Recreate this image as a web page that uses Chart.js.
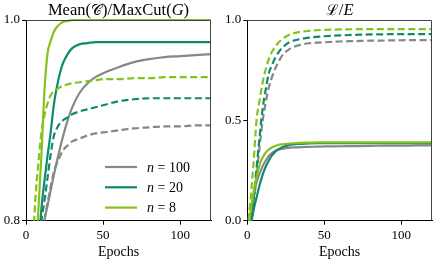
<!DOCTYPE html>
<html>
<head>
<meta charset="utf-8">
<script src="https://cdn.jsdelivr.net/npm/chart.js@4"></script>
<style>
    html, body { margin: 0; padding: 0; background: #fff; }
    #wrap { position: relative; width: 436px; height: 261px; }
    .box { position: absolute; top: 0; width: 218px; height: 261px; }
</style>
</head>
<body>
<div id="wrap">
    <div class="box" style="left:0"><canvas id="ratioChart" width="218" height="261"></canvas></div>
    <div class="box" style="left:218px"><canvas id="lossChart" width="218" height="261"></canvas></div>
</div>
<script>
const epochs = [0, 2, 4, 6, 8, 10, 12, 14, 16, 18, 20, 22, 24, 27, 30, 35, 40, 45, 50, 60, 70, 80, 90, 100, 110, 120]

const seriesLabels = ['n = 100', 'n = 20', 'n = 8']

// left panel: Mean(C)/MaxCut(G)
const ratioSolid100 = [0.50, 0.56, 0.62, 0.68, 0.73, 0.77, 0.80, 0.815, 0.83, 0.845, 0.859, 0.872, 0.884, 0.900, 0.913, 0.928, 0.937, 0.943, 0.947, 0.953, 0.958, 0.961, 0.963, 0.964, 0.965, 0.966]
const ratioDash100 = [0.55, 0.60, 0.65, 0.70, 0.74, 0.775, 0.80, 0.818, 0.834, 0.848, 0.857, 0.864, 0.870, 0.875, 0.879, 0.882, 0.885, 0.887, 0.888, 0.890, 0.892, 0.893, 0.894, 0.894, 0.895, 0.895]
const ratioSolid20 = [0.50, 0.57, 0.64, 0.71, 0.77, 0.812, 0.84, 0.865, 0.888, 0.915, 0.933, 0.947, 0.957, 0.966, 0.972, 0.976, 0.977, 0.978, 0.978, 0.978, 0.978, 0.978, 0.978, 0.978, 0.978, 0.978]
const ratioDash20 = [0.60, 0.65, 0.70, 0.74, 0.772, 0.80, 0.82, 0.843, 0.866, 0.884, 0.892, 0.897, 0.900, 0.903, 0.906, 0.909, 0.911, 0.913, 0.915, 0.919, 0.921, 0.922, 0.922, 0.922, 0.922, 0.922]
const ratioSolid8 = [0.55, 0.62, 0.69, 0.76, 0.81, 0.865, 0.93, 0.967, 0.979, 0.988, 0.993, 0.996, 0.998, 0.999, 1.0, 1.0, 1.0, 1.0, 1.0, 1.0, 1.0, 1.0, 1.0, 1.0, 1.0, 1.0]
const ratioDash8 = [0.62, 0.69, 0.76, 0.82, 0.857, 0.888, 0.905, 0.917, 0.925, 0.929, 0.931, 0.933, 0.934, 0.936, 0.937, 0.938, 0.939, 0.940, 0.941, 0.941, 0.942, 0.942, 0.943, 0.943, 0.943, 0.943]

// right panel: L/E
const lossSolid100 = [-0.10, 0.01, 0.12, 0.19, 0.235, 0.272, 0.30, 0.322, 0.337, 0.347, 0.353, 0.357, 0.360, 0.363, 0.365, 0.367, 0.368, 0.369, 0.370, 0.371, 0.372, 0.373, 0.374, 0.374, 0.375, 0.375]
const lossDash100 = [-0.18, -0.05, 0.08, 0.22, 0.37, 0.50, 0.59, 0.665, 0.715, 0.755, 0.787, 0.815, 0.835, 0.853, 0.866, 0.877, 0.884, 0.887, 0.889, 0.893, 0.895, 0.897, 0.898, 0.899, 0.900, 0.900]
const lossSolid20 = [-0.12, -0.035, 0.05, 0.115, 0.178, 0.23, 0.27, 0.30, 0.325, 0.343, 0.355, 0.363, 0.370, 0.376, 0.380, 0.383, 0.385, 0.386, 0.386, 0.386, 0.386, 0.386, 0.386, 0.386, 0.386, 0.386]
const lossDash20 = [-0.15, -0.03, 0.10, 0.26, 0.42, 0.56, 0.655, 0.735, 0.775, 0.81, 0.835, 0.856, 0.871, 0.888, 0.897, 0.906, 0.912, 0.916, 0.919, 0.923, 0.926, 0.928, 0.929, 0.930, 0.930, 0.930]
const lossSolid8 = [-0.07, 0.04, 0.14, 0.215, 0.28, 0.315, 0.34, 0.355, 0.365, 0.372, 0.377, 0.380, 0.382, 0.384, 0.386, 0.388, 0.389, 0.390, 0.390, 0.390, 0.390, 0.390, 0.390, 0.390, 0.390, 0.390]
const lossDash8 = [-0.05, 0.10, 0.28, 0.50, 0.60, 0.69, 0.755, 0.805, 0.84, 0.865, 0.885, 0.900, 0.912, 0.925, 0.934, 0.942, 0.946, 0.949, 0.951, 0.953, 0.954, 0.955, 0.955, 0.955, 0.955, 0.955]

const xTicks = [0, 50, 100]
const ratioTicks = [0.8, 1.0]
const lossTicks = [0.0, 0.5, 1.0]

const GRAY = '#878787'
const TEAL = '#0f8a6c'
const LIME = '#85c21c'
const SERIF = '"Liberation Serif", "DejaVu Serif", serif'

function points(values) {
    return values.map((v, i) => ({ x: epochs[i], y: v }))
}

function line(label, values, color, dashed, order) {
    return {
        label,
        data: points(values),
        borderColor: color,
        borderWidth: 2.2,
        borderDash: dashed ? [7, 3.5] : [],
        pointRadius: 0,
        cubicInterpolationMode: 'monotone',
        fill: false,
        clip: { left: 0, right: 2, top: 3, bottom: 0 },
        order,
        dashed
    }
}

function drawParts(ctx, parts, cx, y) {
    let total = 0
    parts.forEach(p => {
        ctx.font = p.font
        total += ctx.measureText(p.text).width
    })
    let x = cx - total / 2
    ctx.textAlign = 'left'
    ctx.textBaseline = 'alphabetic'
    ctx.fillStyle = '#000'
    parts.forEach(p => {
        ctx.font = p.font
        ctx.fillText(p.text, x, y)
        x += ctx.measureText(p.text).width
    })
}

function framePlugin(titleParts) {
    return {
        id: 'frame',
        afterDraw(chart) {
            const { ctx, chartArea: a } = chart
            ctx.save()
            ctx.strokeStyle = '#444'
            ctx.lineWidth = 1
            ctx.beginPath()
            ctx.moveTo(a.left, a.top + 0.5)
            ctx.lineTo(a.right - 0.5, a.top + 0.5)
            ctx.lineTo(a.right - 0.5, a.bottom)
            ctx.stroke()
            drawParts(ctx, titleParts, (a.left + a.right) / 2, 14.5)
            ctx.restore()
        }
    }
}

const legendPlugin = {
    id: 'nLegend',
    afterDraw(chart) {
        const ctx = chart.ctx
        ctx.save()
        const items = chart.data.datasets.filter(d => !d.dashed)
        items.sort((a, b) => seriesLabels.indexOf(a.label) - seriesLabels.indexOf(b.label))
        items.forEach((d, i) => {
            const y = 167 + i * 20.3
            ctx.strokeStyle = d.borderColor
            ctx.lineWidth = 2.2
            ctx.beginPath()
            ctx.moveTo(105, y)
            ctx.lineTo(137, y)
            ctx.stroke()
            const rest = d.label.slice(1)
            ctx.fillStyle = '#000'
            ctx.font = 'italic 14px ' + SERIF
            ctx.textAlign = 'left'
            ctx.textBaseline = 'middle'
            ctx.fillText('n', 147, y + 1)
            const w = ctx.measureText('n').width
            ctx.font = '14px ' + SERIF
            ctx.fillText(rest, 147 + w, y + 1)
        })
        ctx.restore()
    }
}

function scales(yMin, yMax, yTicks, yWidth) {
    return {
        x: {
            type: 'linear',
            min: 0,
            max: 120,
            afterBuildTicks: s => { s.ticks = xTicks.map(v => ({ value: v })) },
            afterFit: s => { s.height = 40.3 },
            grid: { drawOnChartArea: false, drawTicks: true, tickLength: 4, color: '#000' },
            border: { display: true, color: '#000', width: 1 },
            ticks: { color: '#000', padding: 3, maxRotation: 0, font: { family: SERIF, size: 13 } },
            title: { display: true, text: 'Epochs', color: '#000', padding: 0, font: { family: SERIF, size: 14 } }
        },
        y: {
            min: yMin,
            max: yMax,
            afterBuildTicks: s => { s.ticks = yTicks.map(v => ({ value: v })) },
            afterFit: s => { s.width = yWidth },
            grid: { drawOnChartArea: false, drawTicks: true, tickLength: 4, color: '#000' },
            border: { display: true, color: '#000', width: 1 },
            ticks: { color: '#000', padding: 2, font: { family: SERIF, size: 13 }, callback: v => v.toFixed(1) }
        }
    }
}

function baseOptions(yMin, yMax, yTicks, yWidth, padRight) {
    return {
        responsive: false,
        animation: false,
        layout: { padding: { left: 0, right: padRight, top: 20, bottom: 0 } },
        plugins: { legend: { display: false }, tooltip: { enabled: false }, title: { display: false } },
        scales: scales(yMin, yMax, yTicks, yWidth)
    }
}

new Chart(document.getElementById('ratioChart').getContext('2d'), {
    type: 'line',
    data: {
        datasets: [
            line(seriesLabels[0], ratioSolid100, GRAY, false, 6),
            line(seriesLabels[0], ratioDash100, GRAY, true, 5),
            line(seriesLabels[1], ratioSolid20, TEAL, false, 4),
            line(seriesLabels[1], ratioDash20, TEAL, true, 3),
            line(seriesLabels[2], ratioSolid8, LIME, false, 2),
            line(seriesLabels[2], ratioDash8, LIME, true, 1)
        ]
    },
    options: baseOptions(0.8, 1.0, ratioTicks, 26, 7),
    plugins: [framePlugin([
        { text: 'Mean(', font: '16.5px ' + SERIF },
        { text: '𝒞', font: '15px ' + SERIF },
        { text: ')/MaxCut(', font: '16.5px ' + SERIF },
        { text: 'G', font: 'italic 16.5px ' + SERIF },
        { text: ')', font: '16.5px ' + SERIF }
    ]), legendPlugin]
})

new Chart(document.getElementById('lossChart').getContext('2d'), {
    type: 'line',
    data: {
        datasets: [
            line(seriesLabels[0], lossSolid100, GRAY, false, 6),
            line(seriesLabels[0], lossDash100, GRAY, true, 5),
            line(seriesLabels[1], lossSolid20, TEAL, false, 4),
            line(seriesLabels[1], lossDash20, TEAL, true, 3),
            line(seriesLabels[2], lossSolid8, LIME, false, 2),
            line(seriesLabels[2], lossDash8, LIME, true, 1)
        ]
    },
    options: baseOptions(0.0, 1.0, lossTicks, 29.3, 4),
    plugins: [framePlugin([
        { text: 'ℒ', font: '15px ' + SERIF },
        { text: '/', font: '16.5px ' + SERIF },
        { text: 'E', font: 'italic 16.5px ' + SERIF }
    ])]
})
</script>
</body>
</html>
